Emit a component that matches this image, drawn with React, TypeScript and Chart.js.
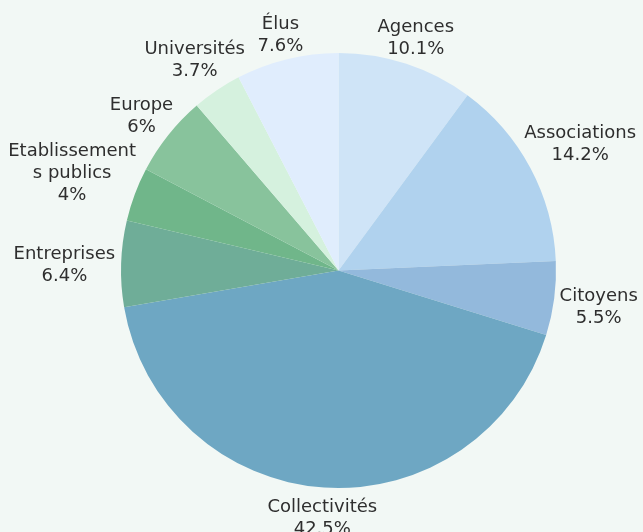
import React, { useEffect, useRef } from "react";
import { Chart, registerables } from "chart.js";

Chart.register(...registerables);

const categories: string[][] = [
  ["Agences"],
  ["Associations"],
  ["Citoyens"],
  ["Collectivités"],
  ["Entreprises"],
  ["Etablissement", "s publics"],
  ["Europe"],
  ["Universités"],
  ["Élus"],
];
const values: number[] = [10.1, 14.2, 5.5, 42.5, 6.4, 4, 6, 3.7, 7.6];
const colors: string[] = [
  "#cfe4f7",
  "#b0d2ee",
  "#93b9dc",
  "#6ea7c3",
  "#6fad98",
  "#70b68a",
  "#88c39c",
  "#d5f1de",
  "#e0edfd",
];

const FONT = '18px "DejaVu Sans"';
const LINE_H = 22;
const OFFSET = 6;
const BASELINE_SHIFT = 3;

const outsideLabels = {
  id: "outsideLabels",
  afterDatasetsDraw(chart: any) {
    const ctx = chart.ctx;
    const meta = chart.getDatasetMeta(0);
    ctx.save();
    ctx.font = FONT;
    ctx.fillStyle = "#2e2e2e";
    ctx.textAlign = "center";
    ctx.textBaseline = "middle";
    meta.data.forEach((arc: any, i: number) => {
      const { x, y, startAngle, endAngle, outerRadius } = arc.getProps(
        ["x", "y", "startAngle", "endAngle", "outerRadius"],
        true
      );
      const mid = (startAngle + endAngle) / 2;
      const ux = Math.cos(mid);
      const uy = Math.sin(mid);
      const lines = [...categories[i], values[i] + "%"];
      const w = Math.max(...lines.map((l) => ctx.measureText(l).width));
      const h = lines.length * LINE_H;
      const d = Math.hypot((w / 2) * ux, (h / 2) * uy) + OFFSET;
      const cx = x + ux * (outerRadius + d);
      const cy = y + uy * (outerRadius + d) + BASELINE_SHIFT;
      lines.forEach((l, k) => {
        ctx.fillText(l, cx, cy - h / 2 + LINE_H / 2 + k * LINE_H);
      });
    });
    ctx.restore();
  },
};

export default function App() {
  const ref = useRef<HTMLCanvasElement | null>(null);
  useEffect(() => {
    if (!ref.current) return;
    const chart = new Chart(ref.current, {
      type: "pie",
      data: {
        labels: categories.map((c) => c.join("")),
        datasets: [
          {
            data: values,
            backgroundColor: colors,
            borderWidth: 0,
          },
        ],
      },
      options: {
        animation: false,
        responsive: false,
        layout: { padding: { top: 53, bottom: 44, left: 34, right: 0 } },
        plugins: {
          legend: { display: false },
          tooltip: { enabled: false },
        },
      },
      plugins: [outsideLabels],
    });
    return () => chart.destroy();
  }, []);
  return (
    <div
      style={{
        position: "fixed",
        left: 0,
        top: 0,
        width: 643,
        height: 532,
        background: "#f2f8f5",
      }}
    >
      <canvas ref={ref} width={643} height={532} style={{ display: "block" }} />
    </div>
  );
}
